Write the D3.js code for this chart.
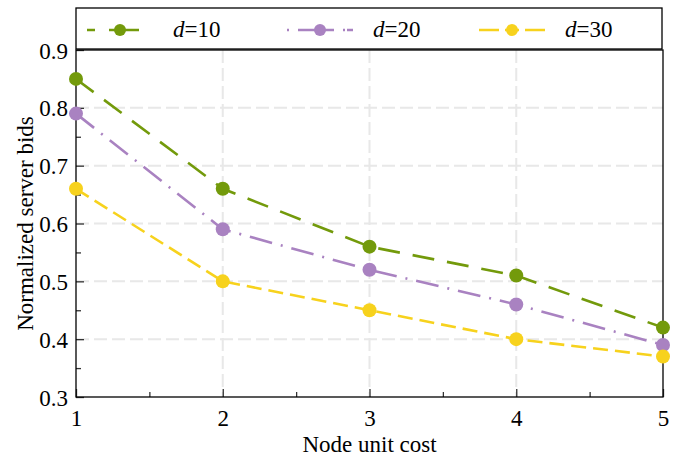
<!DOCTYPE html>
<html>
<head>
<meta charset="utf-8">
<script src="https://cdn.jsdelivr.net/npm/d3@7"></script>
<style>
  body { margin: 0; background: #fff; }
  text { font-family: "Liberation Serif", "Times New Roman", serif; }
</style>
</head>
<body>
<div id="chart"></div>
<script>
// data
const costs = [1, 2, 3, 4, 5];
const bidsD10 = [0.85, 0.66, 0.56, 0.51, 0.42];
const bidsD20 = [0.79, 0.59, 0.52, 0.46, 0.39];
const bidsD30 = [0.66, 0.50, 0.45, 0.40, 0.37];
const seriesNames = ["10", "20", "30"];
const yTicks = [0.3, 0.4, 0.5, 0.6, 0.7, 0.8, 0.9];
const xTicks = [1, 2, 3, 4, 5];

const W = 696, H = 457;
const margin = { top: 50, right: 33, bottom: 60, left: 76 };
const width = W - margin.left - margin.right;
const height = H - margin.top - margin.bottom;
const fontSize = "23px";

const svg = d3.select("#chart").append("svg")
  .attr("width", W)
  .attr("height", H);

const g = svg.append("g")
  .attr("transform", `translate(${margin.left},${margin.top})`);

const x = d3.scaleLinear().domain([1, 5]).range([0, width]);
const y = d3.scaleLinear().domain([0.3, 0.9]).range([height, 0]);

// series styling
const series = [
  { name: seriesNames[0], values: bidsD10, color: "#739a0b", dash: "22,13" },
  { name: seriesNames[1], values: bidsD20, color: "#a982c1", dash: "23,9,2,9" },
  { name: seriesNames[2], values: bidsD30, color: "#f7d21d", dash: "15,7" }
];

// dashed grid
const grid = g.append("g").attr("class", "grid");
grid.selectAll("line.gy")
  .data(yTicks.slice(1, -1))
  .enter().append("line")
  .attr("x1", 0).attr("x2", width)
  .attr("y1", d => y(d)).attr("y2", d => y(d))
  .attr("stroke", "#e8e8e8").attr("stroke-width", 2)
  .attr("stroke-dasharray", "13,5");
grid.selectAll("line.gx")
  .data(xTicks.slice(1, -1))
  .enter().append("line")
  .attr("x1", d => x(d)).attr("x2", d => x(d))
  .attr("y1", 0).attr("y2", height)
  .attr("stroke", "#e8e8e8").attr("stroke-width", 2)
  .attr("stroke-dasharray", "13,5");

// axes (ticks pointing inward)
const xAxis = g.append("g")
  .attr("transform", `translate(0,${height})`)
  .call(d3.axisBottom(x).tickValues(xTicks).tickSize(-8).tickPadding(16).tickFormat(d3.format("d")));
const xMinor = g.append("g")
  .attr("transform", `translate(0,${height})`)
  .call(d3.axisBottom(x).tickValues([1.5, 2.5, 3.5, 4.5]).tickSize(-5).tickFormat(""));

const yAxis = g.append("g")
  .call(d3.axisLeft(y).tickValues(yTicks).tickSize(-8).tickPadding(8).tickFormat(d3.format(".1f")));
const yMinor = g.append("g")
  .call(d3.axisLeft(y).tickValues([0.35, 0.45, 0.55, 0.65, 0.75, 0.85]).tickSize(-5).tickFormat(""));

[xAxis, xMinor, yAxis, yMinor].forEach(a => {
  a.select(".domain").remove();
  a.selectAll(".tick line").attr("stroke", "#333").attr("stroke-width", 1.3);
  a.selectAll("text")
    .attr("fill", "#000")
    .style("font-size", fontSize)
    .style("font-family", "'Liberation Serif', 'Times New Roman', serif");
});
yAxis.selectAll("text").attr("dy", "0.35em");
xAxis.selectAll("text").attr("dy", "0.55em");

// frame
g.append("rect")
  .attr("width", width).attr("height", height)
  .attr("fill", "none").attr("stroke", "#000").attr("stroke-width", 1.3);

// lines + markers
const line = d3.line()
  .x((d, i) => x(costs[i]))
  .y(d => y(d));

series.forEach(s => {
  g.append("path")
    .datum(s.values)
    .attr("fill", "none")
    .attr("stroke", s.color)
    .attr("stroke-width", 2.6)
    .attr("stroke-dasharray", s.dash)
    .attr("d", line);
  g.selectAll(null)
    .data(s.values)
    .enter().append("circle")
    .attr("cx", (d, i) => x(costs[i]))
    .attr("cy", d => y(d))
    .attr("r", 7)
    .attr("fill", s.color);
});

// axis titles
svg.append("text")
  .attr("x", margin.left + width / 2)
  .attr("y", 452)
  .attr("text-anchor", "middle")
  .style("font-size", fontSize)
  .text("Node unit cost");

svg.append("text")
  .attr("transform", `translate(33,${margin.top + height / 2}) rotate(-90)`)
  .attr("text-anchor", "middle")
  .style("font-size", fontSize)
  .text("Normalized server bids");

// legend box above the plot
const legend = svg.append("g");
legend.append("rect")
  .attr("x", margin.left).attr("y", 8)
  .attr("width", width - 1).attr("height", 41)
  .attr("fill", "#fff").attr("stroke", "#000").attr("stroke-width", 1.3);

const legendX = [120, 320, 512];
const legendDash = ["8,14,30,14,8", "2,9,36,9,2", "20,6,14,6,20"];
series.forEach((s, i) => {
  const cx = legendX[i];
  legend.append("line")
    .attr("x1", cx - 33).attr("x2", cx + 33)
    .attr("y1", 30).attr("y2", 30)
    .attr("stroke", s.color).attr("stroke-width", 2.6)
    .attr("stroke-dasharray", legendDash[i]);
  legend.append("circle")
    .attr("cx", cx).attr("cy", 30).attr("r", 6)
    .attr("fill", s.color);
  const t = legend.append("text")
    .attr("x", cx + 53).attr("y", 37)
    .style("font-size", fontSize);
  t.append("tspan").style("font-style", "italic").text("d");
  t.append("tspan").text("=" + s.name);
});
</script>
</body>
</html>
